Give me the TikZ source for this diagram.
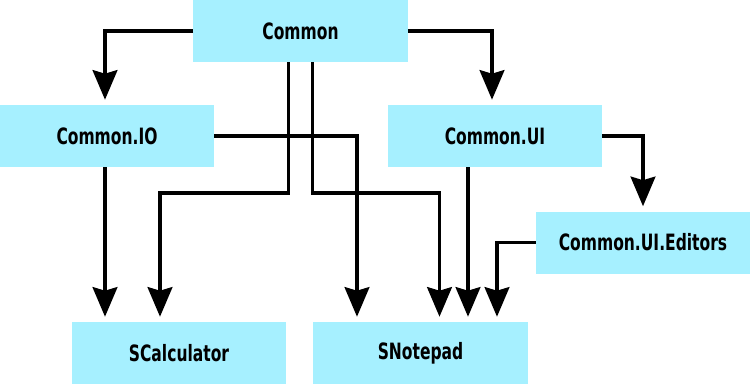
\documentclass[tikz,border=0pt]{standalone}
\usepackage{fontspec}
\setmainfont{DejaVu Sans}[FakeStretch=0.69]
\usepackage{tikz}
\usetikzlibrary{calc, arrows.meta}
\definecolor{boxcyan}{RGB}{166,240,255}
\tikzset{
    module/.style={rectangle, fill=boxcyan, inner sep=0pt, minimum width=5.35cm,
        minimum height=1.55cm, font=\fontsize{16}{19}\selectfont\bfseries},
    dep/.style={line width=2.3pt, -{Stealth[length=0.74cm, width=0.62cm, inset=0.09cm]},
        shorten >=0.125cm}
}

\begin{document}
\begin{tikzpicture}[x=0.025cm, y=-0.025cm]
                \useasboundingbox (0,0) rectangle (750,384);
                \node[module] (common) at (300.5,31) {Common};
                \node[module] (io) at (107,136) {Common.IO};
                \node[module] (ui) at (495,136) {Common.UI};
                \node[module] (editors) at (643,242.5) {Common.UI.Editors};
                \node[module] (calc) at (179,353) {SCalculator};
                \node[module] (notepad) at (420.5,353) {SNotepad};
                \coordinate (lvl) at (0,193);
                % first level
                \draw[dep] (common.west) -| ($(io.north)+(-2,0)$);
                \draw[dep] (common.east) -| ($(ui.north)+(-3,0)$);
                \draw[dep] (ui.east) -| (editors.north);
                % to SCalculator
                \draw[dep] ($(io.south)+(-2,0)$) coordinate (i1) -- (i1 |- calc.north);
                \draw[dep] ($(common.south)+(-12,0)$) coordinate (c1) -- (c1 |- lvl) -| ($(calc.north)+(-19,0)$);
                % to SNotepad
                \draw[dep] ($(common.south)+(12,0)$) coordinate (c2) -- (c2 |- lvl) -| ($(notepad.north)+(19,0)$);
                \draw[dep] (io.east) -| ($(notepad.north)+(-63.5,0)$);
                \draw[dep] ($(ui.south)+(-27,0)$) coordinate (u1) -- (u1 |- notepad.north);
                \draw[dep] (editors.west) -| ($(notepad.north)+(76.5,0)$);
            \end{tikzpicture}
\end{document}
